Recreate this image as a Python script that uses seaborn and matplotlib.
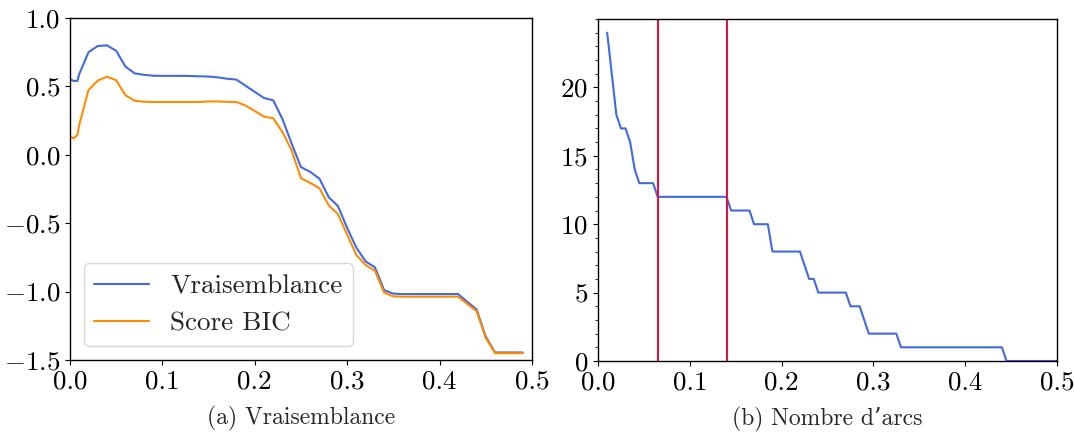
import numpy as np
import pandas as pd
import matplotlib
matplotlib.use("Agg")
import matplotlib.pyplot as plt
from matplotlib.ticker import MultipleLocator
import seaborn as sns

# ---------------- data ----------------
seuils_a = [0.001, 0.004, 0.008, 0.01, 0.02, 0.03, 0.04, 0.05, 0.06, 0.07, 0.08, 0.09,
            0.10, 0.11, 0.12, 0.13, 0.14, 0.15, 0.16, 0.17, 0.18, 0.19,
            0.20, 0.21, 0.22, 0.23, 0.24, 0.25, 0.26, 0.27, 0.28, 0.29,
            0.30, 0.31, 0.32, 0.33, 0.34, 0.35, 0.36, 0.37, 0.38, 0.39,
            0.40, 0.41, 0.42, 0.43, 0.44, 0.45, 0.46, 0.47, 0.48, 0.49]
vraisemblance = [0.55, 0.54, 0.54, 0.59, 0.75, 0.795, 0.80, 0.76, 0.645, 0.595, 0.585, 0.578,
                 0.577, 0.577, 0.577, 0.576, 0.574, 0.572, 0.566, 0.556, 0.55, 0.505,
                 0.46, 0.415, 0.398, 0.26, 0.08, -0.09, -0.125, -0.175, -0.31, -0.375,
                 -0.535, -0.68, -0.78, -0.822, -0.99, -1.015, -1.018, -1.018, -1.018, -1.018,
                 -1.018, -1.018, -1.018, -1.075, -1.13, -1.33, -1.445, -1.445, -1.445, -1.445]
score_bic = [0.13, 0.12, 0.145, 0.218, 0.474, 0.542, 0.571, 0.545, 0.435, 0.395, 0.388, 0.386,
             0.386, 0.386, 0.386, 0.386, 0.386, 0.39, 0.39, 0.387, 0.386, 0.36,
             0.32, 0.279, 0.267, 0.165, 0.03, -0.172, -0.205, -0.245, -0.37, -0.433,
             -0.585, -0.733, -0.806, -0.847, -1.008, -1.035, -1.037, -1.037, -1.037, -1.037,
             -1.037, -1.037, -1.037, -1.09, -1.142, -1.34, -1.45, -1.45, -1.45, -1.45]

seuils_b = [0.01, 0.015, 0.02, 0.025, 0.03, 0.035, 0.04, 0.045, 0.05, 0.055, 0.06, 0.065,
            0.07, 0.075, 0.08, 0.085, 0.09, 0.095, 0.10, 0.105, 0.11, 0.115, 0.12, 0.125,
            0.13, 0.135, 0.14, 0.145, 0.15, 0.155, 0.16, 0.165, 0.17, 0.175, 0.18, 0.185,
            0.19, 0.195, 0.20, 0.205, 0.21, 0.215, 0.22, 0.225, 0.23, 0.235, 0.24, 0.245,
            0.25, 0.255, 0.26, 0.265, 0.27, 0.275, 0.28, 0.285, 0.29, 0.295, 0.30, 0.305,
            0.31, 0.315, 0.32, 0.325, 0.33, 0.335, 0.34, 0.345, 0.35, 0.355, 0.36, 0.365,
            0.37, 0.375, 0.38, 0.385, 0.39, 0.395, 0.40, 0.405, 0.41, 0.415, 0.42, 0.425,
            0.43, 0.435, 0.44, 0.445, 0.45, 0.455, 0.46, 0.465, 0.47, 0.475, 0.48, 0.485,
            0.49, 0.495, 0.50]
nombre_arcs = [24, 21, 18, 17, 17, 16, 14, 13, 13, 13, 13, 12,
               12, 12, 12, 12, 12, 12, 12, 12, 12, 12, 12, 12,
               12, 12, 12, 11, 11, 11, 11, 11, 10, 10, 10, 10,
               8, 8, 8, 8, 8, 8, 8, 7, 6, 6, 5, 5,
               5, 5, 5, 5, 5, 4, 4, 4, 3, 2, 2, 2,
               2, 2, 2, 2, 1, 1, 1, 1, 1, 1, 1, 1,
               1, 1, 1, 1, 1, 1, 1, 1, 1, 1, 1, 1,
               1, 1, 1, 0, 0, 0, 0, 0, 0, 0, 0, 0,
               0, 0, 0]
seuils_choisis = [0.065, 0.14]

titre_a = "(a) Vraisemblance"
titre_b = "(b) Nombre d\u2019arcs"
legende = ["Vraisemblance", "Score BIC"]
xticks = [0.0, 0.1, 0.2, 0.3, 0.4, 0.5]
yticks_a = [-1.5, -1.0, -0.5, 0.0, 0.5, 1.0]
yticks_b = [0, 5, 10, 15, 20]

# ---------------- style ----------------
sns.set_theme(style="ticks")
plt.rcParams["font.family"] = ["cmr10", "DejaVu Serif"]
plt.rcParams["mathtext.fontset"] = "cm"
plt.rcParams["axes.formatter.use_mathtext"] = True
plt.rcParams["axes.unicode_minus"] = True
plt.rcParams["axes.edgecolor"] = "black"
plt.rcParams["axes.linewidth"] = 1.0
plt.rcParams["xtick.color"] = "black"
plt.rcParams["ytick.color"] = "black"

TICK_FS = 19.5
LABEL_FS = 17

fig = plt.figure(figsize=(10.74, 4.37), dpi=100)
ax1 = fig.add_axes([70 / 1074, 1 - 360 / 437, (532 - 70) / 1074, (360 - 18) / 437])
ax2 = fig.add_axes([598 / 1074, 1 - 361 / 437, (1057 - 598) / 1074, (361 - 19) / 437])

df_a = pd.DataFrame({"seuil": seuils_a, "v": vraisemblance, "b": score_bic})
sns.lineplot(data=df_a, x="seuil", y="v", ax=ax1, color="royalblue", lw=1.5,
             label=legende[0], estimator=None)
sns.lineplot(data=df_a, x="seuil", y="b", ax=ax1, color="darkorange", lw=1.5,
             label=legende[1], estimator=None)
ax1.set_xlim(0, 0.5)
ax1.set_ylim(-1.5, 1.0)
ax1.set_xticks(xticks)
ax1.set_yticks(yticks_a)
ax1.set_xlabel(titre_a, fontsize=LABEL_FS, labelpad=9)
ax1.set_ylabel("")
leg = ax1.legend(loc="lower left", fontsize=TICK_FS, frameon=True, fancybox=True,
                 handlelength=2.0)
leg.get_frame().set_edgecolor("#d0d0d0")

df_b = pd.DataFrame({"seuil": seuils_b, "n": nombre_arcs})
sns.lineplot(data=df_b, x="seuil", y="n", ax=ax2, color="royalblue", lw=1.5, estimator=None)
for s in seuils_choisis:
    ax2.axvline(s, color="crimson", lw=1.5)
ax2.set_xlim(0, 0.5)
ax2.set_ylim(0, 25)
ax2.set_xticks(xticks)
ax2.set_yticks(yticks_b)
ax2.yaxis.set_minor_locator(MultipleLocator(1))
ax2.set_xlabel(titre_b, fontsize=LABEL_FS, labelpad=9)
ax2.set_ylabel("")

for ax in (ax1, ax2):
    for sp in ax.spines.values():
        sp.set_visible(True)
        sp.set_color("black")
    ax.tick_params(axis="both", which="major", labelsize=TICK_FS, length=3.5, width=0.8)
    ax.tick_params(axis="both", which="minor", length=2, width=0.6)
    ax.xaxis.set_major_formatter(matplotlib.ticker.FormatStrFormatter("%.1f"))
ax1.yaxis.set_major_formatter(matplotlib.ticker.FuncFormatter(
    lambda v, p: ("$-$" if v < 0 else "") + "%.1f" % abs(v)))

fig.savefig("out.png", dpi=100)
